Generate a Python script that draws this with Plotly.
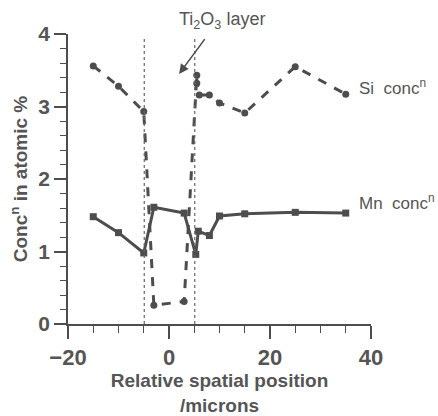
import plotly.graph_objects as go

# Data
si_x = [-15, -10, -5, -3, 3, 5.5, 5.5, 6, 8, 10, 15, 25, 35]
si_y = [3.56, 3.28, 2.93, 0.26, 0.31, 3.43, 3.32, 3.16, 3.16, 3.05, 2.91, 3.55, 3.17]

mn_x = [-15, -10, -5, -3, 3, 5.3, 5.8, 8, 10, 15, 25, 35]
mn_y = [1.48, 1.26, 0.98, 1.61, 1.53, 0.96, 1.28, 1.22, 1.49, 1.52, 1.54, 1.53]

layer_bounds = [-4.9, 5.1]
layer_top = 3.96

x_ticks = [-20, 0, 20, 40]
y_ticks = [0, 1, 2, 3, 4]

LINE = "#4d4d4d"
TEXT = "#555555"
FONT = "Liberation Sans"

fig = go.Figure()

fig.add_trace(go.Scatter(
    x=si_x, y=si_y, mode="lines+markers",
    line=dict(color=LINE, width=3, dash="dash"),
    marker=dict(symbol="circle", size=7, color=LINE),
    showlegend=False, cliponaxis=False))

fig.add_trace(go.Scatter(
    x=mn_x, y=mn_y, mode="lines+markers",
    line=dict(color=LINE, width=3),
    marker=dict(symbol="square", size=7, color=LINE),
    showlegend=False, cliponaxis=False))

for xb in layer_bounds:
    fig.add_shape(type="line", x0=xb, x1=xb, y0=0, y1=layer_top,
                  xref="x", yref="y",
                  line=dict(color="#666666", width=1.2, dash="dot"))

# Arrow for Ti2O3 layer
fig.add_annotation(x=2.0, y=3.45, ax=7.3, ay=3.95, xref="x", yref="y",
                   axref="x", ayref="y", text="", showarrow=True,
                   arrowhead=2, arrowsize=1.2, arrowwidth=1.6, arrowcolor=LINE)

fig.add_annotation(x=0.508, y=1.048, xref="paper", yref="paper", yanchor="middle",
                   text="Ti<sub>2</sub>O<sub>3</sub> layer", showarrow=False,
                   font=dict(family=FONT, size=18, color=TEXT))

fig.add_annotation(x=37.2, y=3.27, xref="x", yref="y", xanchor="left",
                   text="Si  conc<sup>n</sup>", showarrow=False,
                   font=dict(family=FONT, size=17, color=TEXT))
fig.add_annotation(x=37.2, y=1.68, xref="x", yref="y", xanchor="left",
                   text="Mn  conc<sup>n</sup>", showarrow=False,
                   font=dict(family=FONT, size=17, color=TEXT))

fig.update_layout(
    width=438, height=416,
    margin=dict(l=68, r=67, t=34, b=92, autoexpand=False),
    paper_bgcolor="white", plot_bgcolor="white",
    font=dict(family=FONT, color=TEXT),
    xaxis=dict(
        range=[-20, 40], tickvals=x_ticks, showgrid=False, zeroline=False,
        automargin=False,
        showline=True, linecolor=LINE, linewidth=1.5,
        ticks="outside", ticklen=13, tickwidth=1.5, tickcolor=LINE,
        minor=dict(dtick=5, ticks="outside", ticklen=7, tickwidth=1.2, tickcolor=LINE, showgrid=False),
        tickfont=dict(family=FONT, size=22, color=TEXT, weight="bold"),
        title=dict(text="Relative spatial position<br>/microns", standoff=7,
                   font=dict(family=FONT, size=19, color=TEXT, weight="bold")),
    ),
    yaxis=dict(
        range=[0, 4], tickvals=y_ticks, showgrid=False, zeroline=False,
        automargin=False,
        showline=True, linecolor=LINE, linewidth=1.5,
        ticks="outside", ticklen=12, tickwidth=1.5, tickcolor=LINE,
        minor=dict(dtick=0.2, ticks="outside", ticklen=6, tickwidth=1.2, tickcolor=LINE, showgrid=False),
        tickfont=dict(family=FONT, size=21, color=TEXT, weight="bold"),
        title=dict(text="Conc<sup>n</sup> in atomic %", standoff=6,
                   font=dict(family=FONT, size=19, color=TEXT, weight="bold")),
    ),
)

fig.write_html("out.html")
